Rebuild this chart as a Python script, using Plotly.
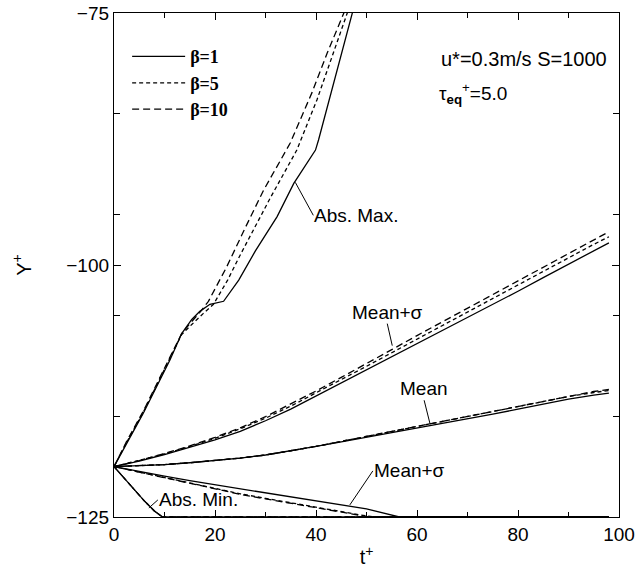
import plotly.graph_objects as go

# ---------------- data ----------------
# Abs. Max.
t_max_b1 = [0, 2.5, 5.8, 8.5, 11.1, 13.4, 15.4, 17, 19, 21.7, 24.7, 28, 32.3, 35.6, 39.9, 40.5, 47.2, 49]
y_max_b1 = [-120, -117.7, -114.7, -112.0, -109.4, -106.8, -105.4, -104.6, -103.9, -103.6, -101.5, -98.6, -95.2, -91.9, -88.6, -87.6, -75, -71.6]
t_max_b5 = [0, 2.5, 5.8, 8.5, 11.1, 13.4, 15.4, 16.4, 17.7, 19.7, 22.5, 25, 31, 36.2, 40.2, 43.2, 46.2, 48]
y_max_b5 = [-120, -117.6, -114.6, -111.9, -109.3, -106.9, -105.9, -105.4, -104.8, -103.9, -101.5, -99.0, -93.3, -88.6, -83.6, -79.3, -75, -72.4]
t_max_b10 = [0, 2.5, 5.8, 8.5, 11.1, 13.4, 15.4, 17, 18.7, 22.3, 26, 29.6, 34.9, 39.2, 42.2, 45.5, 47.5]
y_max_b10 = [-120, -117.5, -114.5, -111.8, -109.2, -106.8, -105.6, -104.7, -103.6, -100.2, -96.3, -92.6, -87.9, -82.9, -79, -75, -72.6]

# common time grid for mean curves
t_grid = [0, 5, 10, 15, 20, 25, 30, 35, 40, 45, 50, 55, 60, 65, 70, 75, 80, 85, 90, 95, 98]

# Mean + sigma (upper)
y_msu_b1 = [-120, -119.45, -118.8, -118.1, -117.35, -116.5, -115.45, -114.3, -113.0, -111.7, -110.45,
            -109.15, -107.85, -106.55, -105.2, -103.9, -102.6, -101.25, -99.9, -98.6, -97.8]
y_msu_b5 = [-120, -119.4, -118.75, -118.0, -117.2, -116.25, -115.2, -114.0, -112.7, -111.4, -110.05,
            -108.7, -107.35, -106.0, -104.65, -103.3, -101.95, -100.6, -99.3, -97.95, -97.2]
y_msu_b10 = [-120, -119.4, -118.7, -117.95, -117.1, -116.15, -115.05, -113.8, -112.5, -111.15, -109.8,
             -108.4, -107.0, -105.65, -104.3, -102.95, -101.6, -100.25, -98.9, -97.55, -96.7]

# Mean
y_mean_b1 = [-120, -119.92, -119.8, -119.62, -119.4, -119.15, -118.85, -118.45, -118.0, -117.55, -117.1,
             -116.65, -116.2, -115.75, -115.25, -114.8, -114.3, -113.8, -113.3, -112.9, -112.7]
y_mean_b5 = [-120, -119.92, -119.8, -119.62, -119.4, -119.15, -118.85, -118.45, -118.0, -117.5, -117.0,
             -116.5, -116.05, -115.55, -115.05, -114.55, -114.05, -113.55, -113.05, -112.65, -112.45]
y_mean_b10 = [-120, -119.92, -119.8, -119.62, -119.4, -119.15, -118.85, -118.45, -118.0, -117.5, -117.0,
              -116.5, -116.0, -115.5, -115.0, -114.5, -114.0, -113.5, -113.0, -112.55, -112.35]

# Mean + sigma (lower)
t_msl_b1 = [0, 5, 10, 15, 20, 25, 30, 35, 40, 45, 50, 56.5, 60, 70, 80, 90, 98]
y_msl_b1 = [-120, -120.5, -120.95, -121.4, -121.8, -122.2, -122.6, -123.0, -123.35, -123.75, -124.2,
            -125, -125, -125, -125, -125, -125]
t_msl_b = [0, 5, 10, 15, 20, 25, 30, 35, 40, 45, 50, 52, 60, 70, 80, 90, 98]
y_msl_b5 = [-120, -120.55, -121.05, -121.6, -122.15, -122.7, -123.15, -123.6, -124.0, -124.45, -124.9,
            -125, -125, -125, -125, -125, -125]
y_msl_b10 = [-120, -120.55, -121.1, -121.65, -122.2, -122.75, -123.2, -123.65, -124.05, -124.5, -124.95,
             -125, -125, -125, -125, -125, -125]

# Abs. Min.
t_min = [0, 3, 6, 8, 9.6, 20, 40, 60, 80, 98]
y_min = [-120, -121.75, -123.4, -124.4, -125, -125, -125, -125, -125, -125]

legend_names = ["β=1", "β=5", "β=10"]
x_tickvals = [0, 20, 40, 60, 80, 100]
y_tickvals = [-75, -100, -125]

# ---------------- styles ----------------
dash_styles = ["solid", "4px,3px", "7px,4px"]
LW = 1.3

series = [
    [(t_max_b1, y_max_b1), (t_grid, y_msu_b1), (t_grid, y_mean_b1), (t_msl_b1, y_msl_b1), (t_min, y_min)],
    [(t_max_b5, y_max_b5), (t_grid, y_msu_b5), (t_grid, y_mean_b5), (t_msl_b, y_msl_b5), (t_min, y_min)],
    [(t_max_b10, y_max_b10), (t_grid, y_msu_b10), (t_grid, y_mean_b10), (t_msl_b, y_msl_b10), (t_min, y_min)],
]

fig = go.Figure()
for i, group in enumerate(series):
    for j, (tx, ty) in enumerate(group):
        fig.add_trace(go.Scatter(
            x=tx, y=ty, mode="lines",
            line=dict(color="black", width=LW, dash=dash_styles[i]),
            name=legend_names[i], legendgroup=legend_names[i],
            showlegend=(j == 0), hoverinfo="skip",
        ))

sans = "Liberation Sans, Arial, sans-serif"
serif = "Liberation Serif, Times New Roman, serif"

axis_common = dict(
    showline=True, linecolor="black", linewidth=1.3, mirror="ticks",
    ticks="inside", ticklen=7, tickwidth=1, tickcolor="black",
    showgrid=False, zeroline=False, automargin=False,
    tickfont=dict(family=sans, size=19, color="black"),
)

fig.update_xaxes(
    range=[0, 100], tickmode="array", tickvals=x_tickvals,
    minor=dict(tickmode="array", tickvals=[10, 30, 50, 70, 90], ticks="inside", ticklen=5, tickcolor="black"),
    title=dict(text="t<sup>+</sup>", font=dict(family=sans, size=20, color="black"), standoff=6),
    **axis_common,
)
fig.update_yaxes(
    range=[-125, -75], tickmode="array", tickvals=y_tickvals,
    minor=dict(tickmode="array", tickvals=[-85, -95, -105, -115], ticks="inside", ticklen=6, tickcolor="black"),
    title=dict(text="Y<sup>+</sup>", font=dict(family=sans, size=20, color="black"), standoff=29),
    **axis_common,
)

ann_font = dict(family=sans, size=19, color="black")
annotations = [
    dict(x=35.9, y=-91.8, text="Abs. Max.", ax=18, ay=33, xanchor="left", yanchor="middle"),
    dict(x=55.1, y=-108.0, text="Mean+σ", ax=-5, ay=-22, xanchor="center", yanchor="bottom"),
    dict(x=62.6, y=-115.8, text="Mean", ax=-6, ay=-24, xanchor="center", yanchor="bottom"),
    dict(x=46.7, y=-123.8, text="Mean+σ", ax=23, ay=-34, xanchor="left", yanchor="middle"),
    dict(x=6.9, y=-124.1, text="Abs. Min.", ax=9, ay=-8, xanchor="left", yanchor="middle"),
]
for a in annotations:
    fig.add_annotation(**a, showarrow=True, arrowhead=0, arrowwidth=1, arrowcolor="black",
                       font=ann_font, xref="x", yref="y", axref="pixel", ayref="pixel", borderpad=0)

fig.add_annotation(x=0.643, y=0.909, xref="paper", yref="paper", xanchor="left", yanchor="middle",
                   text="u*=0.3m/s S=1000", showarrow=False, font=dict(family=sans, size=20, color="black"))
fig.add_annotation(x=0.64, y=0.84, xref="paper", yref="paper", xanchor="left", yanchor="middle",
                   text="τ<sub><b>eq</b></sub><sup>+</sup>=5.0", showarrow=False,
                   font=dict(family=sans, size=19, color="black"))

fig.update_layout(
    width=636, height=570,
    margin=dict(l=114, r=17, t=13, b=53),
    paper_bgcolor="white", plot_bgcolor="white",
    showlegend=True,
    legend=dict(x=0.026, y=0.95, xanchor="left", yanchor="top",
                bgcolor="rgba(0,0,0,0)", borderwidth=0,
                font=dict(family=serif, size=18, color="black", weight="bold"),
                itemwidth=53, tracegroupgap=0),
)

fig.write_html("out.html", config={"displayModeBar": False},
               post_script="document.body.style.margin='0px';")
